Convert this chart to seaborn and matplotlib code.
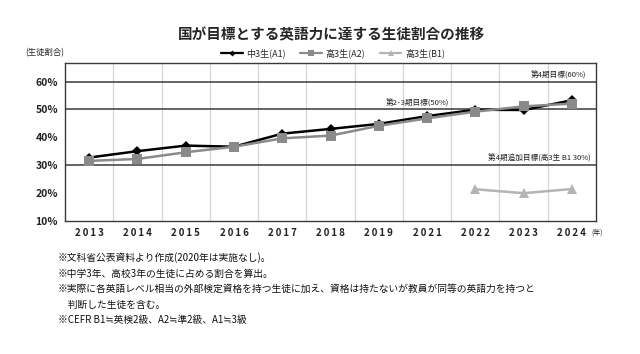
import matplotlib
matplotlib.use('Agg')
import numpy as np
import pandas as pd
import matplotlib.pyplot as plt
from matplotlib.lines import Line2D
import seaborn as sns

# データ
years = ['2013', '2014', '2015', '2016', '2017', '2018', '2019', '2021', '2022', '2023', '2024']
a1_values = [32.7, 35.0, 37.0, 36.6, 41.3, 43.0, 44.8, 47.6, 49.9, 49.8, 53.3]
a2_values = [31.5, 32.2, 34.6, 36.6, 39.6, 40.6, 44.1, 46.8, 49.2, 51.1, 52.1]
b1_years = ['2022', '2023', '2024']
b1_values = [21.3, 19.9, 21.4]

series_names = ['中3生(A1)', '高3生(A2)', '高3生(B1)']
colors = ['#000000', '#8a8a8a', '#b4b4b4']
markers = ['D', 's', '^']
marker_sizes = [5, 7, 6.5]

goal_lines = [60, 50, 30]
goal_labels = ['第4期目標(60%)', '第2･3期目標(50%)', '第4期追加目標(高3生 B1 30%)']

notes = [
    '※文科省公表資料より作成(2020年は実施なし)。',
    '※中学3年、高校3年の生徒に占める割合を算出。',
    '※実際に各英語レベル相当の外部検定資格を持つ生徒に加え、資格は持たないが教員が同等の英語力を持つと',
    '　判断した生徒を含む。',
    '※CEFR B1≒英検2級、A2≒準2級、A1≒3級',
]

# 縦長形式のDataFrame
records = []
for name, ys, vals in [(series_names[0], years, a1_values),
                       (series_names[1], years, a2_values),
                       (series_names[2], b1_years, b1_values)]:
    for y, v in zip(ys, vals):
        records.append([name, y, years.index(y), v])
df = pd.DataFrame(records, columns=['系列', '年', 'pos', '割合'])

sns.set_theme(style='white')
plt.rcParams['font.family'] = ['Noto Sans CJK JP', 'DejaVu Sans']

fig = plt.figure(figsize=(6.4, 3.54), dpi=100)
ax = fig.add_axes([65 / 640, 1 - 220.7 / 354, 531 / 640, 157.7 / 354])

# 区切りの縦線
for k in range(len(years) - 1):
    ax.axvline(k + 0.5, color='#d4d4d4', lw=0.9, zorder=0)

# 目標ライン
for g in goal_lines:
    ax.axhline(g, color='#3a3a3a', lw=1.1, zorder=1)

for name, c, m, ms in zip(series_names, colors, markers, marker_sizes):
    sub = df[df['系列'] == name]
    sns.lineplot(data=sub, x='pos', y='割合', color=c, marker=m, markersize=ms,
                 markeredgewidth=0, linewidth=1.8, ax=ax, zorder=3)

ax.set_xlim(-0.5, len(years) - 0.5)
ax.set_ylim(10, 66.7)
ax.set_xticks(range(len(years)))
ax.set_xticklabels(['\u2009'.join(y) for y in years], fontsize=7, fontweight='bold',
                   color='#222222')
ax.set_yticks([10, 20, 30, 40, 50, 60])
ax.set_yticklabels([f'{t}%' for t in [10, 20, 30, 40, 50, 60]], fontsize=7.5,
                   fontweight='bold', color='#222222')
ax.tick_params(length=0, pad=5)
ax.set_xlabel('')
ax.set_ylabel('')
for s in ax.spines.values():
    s.set_color('#3a3a3a')
    s.set_linewidth(1.0)

# 目標ラベル
ax.text(10.3, 60.8, goal_labels[0], fontsize=5.5, ha='right', va='bottom', color='#222222')
ax.text(6.8, 50.8, goal_labels[1], fontsize=5.5, ha='center', va='bottom', color='#222222')
ax.text(10.4, 30.8, goal_labels[2], fontsize=5.5, ha='right', va='bottom', color='#222222')

# タイトル・凡例
fig.text(331 / 640, 1 - 34 / 354, '国が目標とする英語力に達する生徒割合の推移',
         fontsize=10.5, fontweight='bold', ha='center', va='center')
fig.text(25 / 640, 1 - 53 / 354, '(生徒割合)', fontsize=6, ha='left', va='center')
fig.text(591 / 640, 1 - 233 / 354, '(年)', fontsize=5, ha='left', va='center')

handles = [Line2D([], [], color=c, marker=m, markersize=ms * 0.6, markeredgewidth=0, lw=1.6)
           for c, m, ms in zip(colors, markers, marker_sizes)]
fig.legend(handles, series_names, loc='center', bbox_to_anchor=(333 / 640, 1 - 53 / 354),
           ncol=3, frameon=False, fontsize=6.5, handlelength=2.4, handletextpad=0.4,
           columnspacing=1.6)

# 注記
for i, line in enumerate(notes):
    fig.text(58 / 640, 1 - (258 + i * 15.5) / 354, line, fontsize=7, ha='left', va='center',
             color='#111111')

fig.savefig('out.png', dpi=100, facecolor='white')
